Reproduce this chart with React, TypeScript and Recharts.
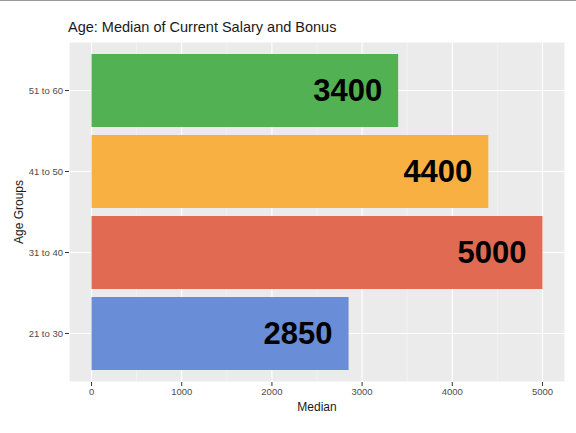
import { BarChart, Bar, XAxis, YAxis, CartesianGrid, Cell, LabelList } from 'recharts';

const ageGroups = ['51 to 60', '41 to 50', '31 to 40', '21 to 30'];
const medians = [3400, 4400, 5000, 2850];
const barColors = ['#52B152', '#F9B042', '#E06A52', '#6A8DD8'];
const xTicks = [0, 1000, 2000, 3000, 4000, 5000];
const minorTicks = [500, 1500, 2500, 3500, 4500];

const data = ageGroups.map((group, i) => ({ group, median: medians[i] }));

const FONT = '"Liberation Sans", Arial, sans-serif';

function ValueLabel(props: any) {
  const { x, y, width, height, value } = props;
  return (
    <text
      x={x + width - 16}
      y={y + height / 2}
      textAnchor="end"
      dominantBaseline="central"
      fontFamily={FONT}
      fontWeight="bold"
      fontSize={31}
      fill="#000"
    >
      {value}
    </text>
  );
}

export default function App() {
  return (
    <div style={{ position: 'fixed', left: 0, top: 0, width: 576, height: 433, background: '#fff', fontFamily: FONT }}>
      <div style={{ position: 'absolute', left: 0, top: 0, width: 576, height: 1, background: '#9a9a9a' }} />
      <div style={{ position: 'absolute', left: 68, top: 19, fontSize: 14.5, color: '#1a1a1a', whiteSpace: 'nowrap' }}>
        Age: Median of Current Salary and Bonus
      </div>
      <BarChart
        width={576}
        height={433}
        data={data}
        layout="vertical"
        margin={{ top: 42, right: 11, bottom: 21, left: 0 }}
      >
        <CartesianGrid
          horizontal={false}
          verticalValues={minorTicks}
          stroke="#f6f6f6"
          strokeWidth={0.6}
          fill="#EBEBEB"
          fillOpacity={1}
        />
        <CartesianGrid stroke="#ffffff" strokeWidth={1.1} />
        <XAxis
          type="number"
          domain={[-250, 5250]}
          ticks={xTicks}
          allowDataOverflow
          axisLine={false}
          tickSize={4}
          tickLine={{ stroke: '#333333' }}
          height={30}
          tick={{ fill: '#4D4D4D', fontSize: 9.5, fontFamily: FONT }}
        />
        <YAxis
          type="category"
          dataKey="group"
          width={69}
          padding={{ top: 8, bottom: 8 }}
          axisLine={false}
          tickSize={4}
          tickLine={{ stroke: '#333333' }}
          tick={{ fill: '#4D4D4D', fontSize: 9.5, fontFamily: FONT }}
        />
        <Bar dataKey="median" barSize={73} isAnimationActive={false}>
          {data.map((d, i) => (
            <Cell key={d.group} fill={barColors[i]} />
          ))}
          <LabelList dataKey="median" content={ValueLabel} />
        </Bar>
      </BarChart>
      <div style={{ position: 'absolute', left: 0, width: 576, top: 400, textAlign: 'center', paddingLeft: 69 - 11, boxSizing: 'border-box', fontSize: 12, color: '#1a1a1a' }}>
        Median
      </div>
      <div
        style={{
          position: 'absolute',
          left: 19,
          top: 212,
          transform: 'translate(-50%, -50%) rotate(-90deg)',
          fontSize: 12,
          color: '#1a1a1a',
          whiteSpace: 'nowrap',
        }}
      >
        Age Groups
      </div>
    </div>
  );
}
